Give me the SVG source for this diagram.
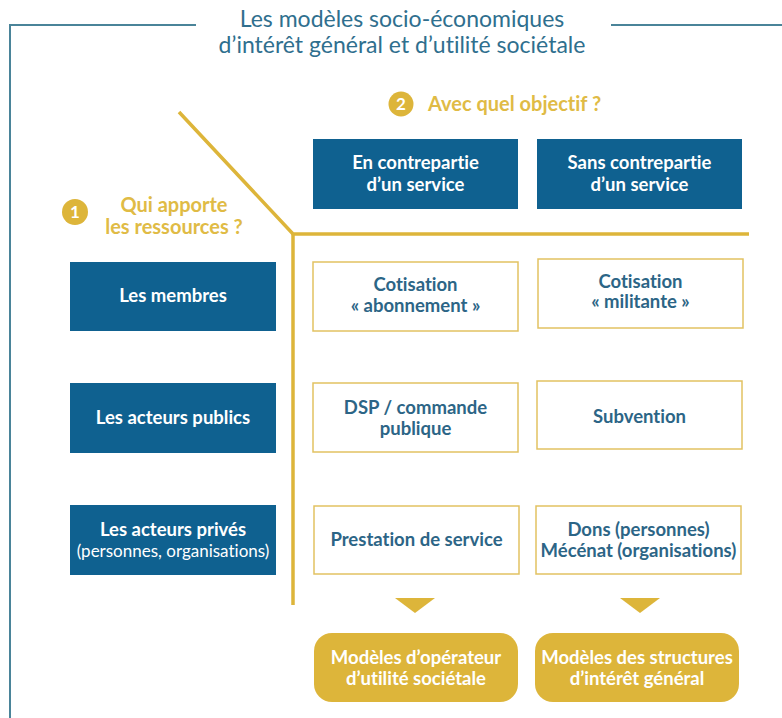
<svg xmlns="http://www.w3.org/2000/svg" width="782" height="718" viewBox="0 0 782 718">
<style>
  text { font-family: Lato, "Open Sans", "Liberation Sans", sans-serif; text-anchor: middle; font-variant-ligatures: none; }
  .title { fill: #2f6f8e; font-size: 23px; }
  .q { fill: #e0bb45; font-size: 20px; font-weight: bold; }
  .hdr { fill: #0f6190; }
  .hdrt { fill: #ffffff; font-size: 18.5px; font-weight: bold; }
  .sub { fill: #ffffff; font-size: 17px; }
  .cell { fill: #ffffff; stroke: #e2c262; stroke-width: 1.5; }
  .cellt { fill: #2c6586; font-size: 18.5px; font-weight: bold; }
  .res { fill: #ddb53a; }
  .rest { fill: #ffffff; font-size: 18.5px; font-weight: bold; }
  .gold { stroke: #ddb53a; stroke-width: 3.5; fill: none; }
  .frame { stroke: #4a8499; stroke-width: 2; fill: none; }
  .num { fill: #ddb53a; }
  .numt { fill: #ffffff; font-size: 17px; font-weight: bold; }
</style>

<g id="frame">
  <path class="frame" d="M196 25 H10 V718"/>
  <path class="frame" d="M611 25 H782"/>
</g>

<g id="title">
  <text class="title" x="402" y="27">Les modèles socio-économiques</text>
  <text class="title" x="402" y="53">d’intérêt général et d’utilité sociétale</text>
</g>

<g id="connectors">
  <path class="gold" d="M179 112 L293 234 H749"/>
  <path class="gold" d="M293 234 V605"/>
  <polygon class="res" points="395,598 435,598 415,613"/>
  <polygon class="res" points="620,598 660,598 640,613"/>
</g>

<g id="q2">
  <circle class="num" cx="401" cy="104" r="12.5"/>
  <text class="numt" x="401" y="110">2</text>
  <text class="q" x="428" y="111" style="text-anchor:start">Avec quel objectif ?</text>
</g>

<g id="q1">
  <circle class="num" cx="75" cy="212" r="13"/>
  <text class="numt" x="75" y="218">1</text>
  <text class="q" x="174" y="212">Qui apporte</text>
  <text class="q" x="174" y="234">les ressources ?</text>
</g>

<g id="col-avec">
  <rect class="hdr" x="313" y="139" width="205" height="70"/>
  <text class="hdrt" x="415.5" y="169">En contrepartie</text>
  <text class="hdrt" x="415.5" y="191">d’un service</text>
</g>
<g id="col-sans">
  <rect class="hdr" x="537" y="139" width="205" height="70"/>
  <text class="hdrt" x="639.5" y="169">Sans contrepartie</text>
  <text class="hdrt" x="639.5" y="191">d’un service</text>
</g>

<g id="row-membres">
  <rect class="hdr" x="70" y="262" width="206" height="69"/>
  <text class="hdrt" x="173" y="302">Les membres</text>
</g>
<g id="row-publics">
  <rect class="hdr" x="70" y="383" width="206" height="70"/>
  <text class="hdrt" x="173" y="424">Les acteurs publics</text>
</g>
<g id="row-prives">
  <rect class="hdr" x="70" y="505" width="206" height="70"/>
  <text class="hdrt" x="173" y="536">Les acteurs privés</text>
  <text class="sub" x="173" y="557">(personnes, organisations)</text>
</g>

<g id="cell-abonnement">
  <rect class="cell" x="313" y="262" width="205" height="69"/>
  <text class="cellt" x="415.5" y="291">Cotisation</text>
  <text class="cellt" x="415.5" y="312">« abonnement »</text>
</g>
<g id="cell-militante">
  <rect class="cell" x="538" y="259" width="205" height="69"/>
  <text class="cellt" x="640.5" y="288">Cotisation</text>
  <text class="cellt" x="640.5" y="308">« militante »</text>
</g>
<g id="cell-dsp">
  <rect class="cell" x="313" y="383" width="205" height="69"/>
  <text class="cellt" x="415.5" y="414">DSP / commande</text>
  <text class="cellt" x="415.5" y="435">publique</text>
</g>
<g id="cell-subvention">
  <rect class="cell" x="537" y="381" width="205" height="68"/>
  <text class="cellt" x="639.5" y="423">Subvention</text>
</g>
<g id="cell-prestation">
  <rect class="cell" x="314" y="506" width="205" height="68"/>
  <text class="cellt" x="416.5" y="546">Prestation de service</text>
</g>
<g id="cell-dons">
  <rect class="cell" x="536" y="506" width="205" height="68"/>
  <text class="cellt" x="638.5" y="536">Dons (personnes)</text>
  <text class="cellt" x="638.5" y="557">Mécénat (organisations)</text>
</g>

<g id="result-operateur">
  <rect class="res" x="314" y="633" width="204" height="69" rx="18"/>
  <text class="rest" x="416" y="664">Modèles d’opérateur</text>
  <text class="rest" x="416" y="685">d’utilité sociétale</text>
</g>
<g id="result-interet">
  <rect class="res" x="535" y="633" width="204" height="69" rx="18"/>
  <text class="rest" x="637" y="664">Modèles des structures</text>
  <text class="rest" x="637" y="685">d’intérêt général</text>
</g>
</svg>
